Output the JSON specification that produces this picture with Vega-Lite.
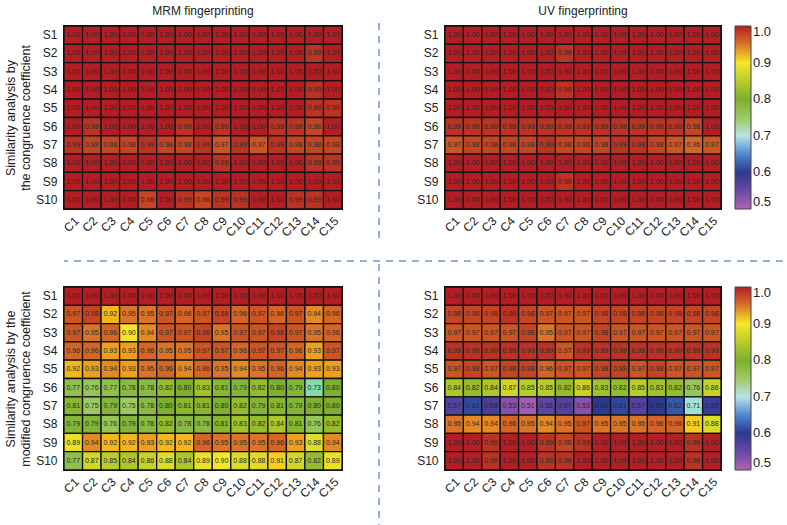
{
  "$schema": "https://vega.github.io/schema/vega-lite/v6.json",
  "padding": {"left": 3, "top": 4, "right": 0, "bottom": 0},
  "background": "white",
  "spacing": 0,
  "config": {
    "font": "Liberation Sans",
    "view": {"stroke": "#111", "strokeWidth": 2},
    "axis": {"labelFont": "Liberation Sans", "labelFontSize": 12, "labelColor": "#222", "ticks": false, "domain": false, "grid": false, "titleFont": "Liberation Sans", "titleFontWeight": "normal", "titleFontSize": 12.5, "titleColor": "#222", "labelOverlap": false},
    "title": {"font": "Liberation Sans", "fontSize": 12, "fontWeight": "normal", "color": "#222", "offset": 7},
    "legend": {"gradientLength": 183, "gradientThickness": 16, "labelFont": "Liberation Sans", "labelFontSize": 13, "labelColor": "#222", "offset": 14, "gradientStrokeColor": "#444", "gradientStrokeWidth": 1, "labelOffset": 6, "padding": 0, "labelBaseline": "middle"}
  },
  "datasets": {
    "sep": [{"a": 0}],
    "tl": [
{"s":"S1","c":"C1","v":1},{"s":"S1","c":"C2","v":1},{"s":"S1","c":"C3","v":1},{"s":"S1","c":"C4","v":1},{"s":"S1","c":"C5","v":1},{"s":"S1","c":"C6","v":1},{"s":"S1","c":"C7","v":1},{"s":"S1","c":"C8","v":1},{"s":"S1","c":"C9","v":1},{"s":"S1","c":"C10","v":1},{"s":"S1","c":"C11","v":1},{"s":"S1","c":"C12","v":1},{"s":"S1","c":"C13","v":1},{"s":"S1","c":"C14","v":1},{"s":"S1","c":"C15","v":1},
{"s":"S2","c":"C1","v":1},{"s":"S2","c":"C2","v":1},{"s":"S2","c":"C3","v":1},{"s":"S2","c":"C4","v":1},{"s":"S2","c":"C5","v":1},{"s":"S2","c":"C6","v":1},{"s":"S2","c":"C7","v":1},{"s":"S2","c":"C8","v":1},{"s":"S2","c":"C9","v":1},{"s":"S2","c":"C10","v":1},{"s":"S2","c":"C11","v":1},{"s":"S2","c":"C12","v":1},{"s":"S2","c":"C13","v":1},{"s":"S2","c":"C14","v":0.99},{"s":"S2","c":"C15","v":1},
{"s":"S3","c":"C1","v":1},{"s":"S3","c":"C2","v":1},{"s":"S3","c":"C3","v":1},{"s":"S3","c":"C4","v":1},{"s":"S3","c":"C5","v":1},{"s":"S3","c":"C6","v":1},{"s":"S3","c":"C7","v":1},{"s":"S3","c":"C8","v":1},{"s":"S3","c":"C9","v":1},{"s":"S3","c":"C10","v":1},{"s":"S3","c":"C11","v":1},{"s":"S3","c":"C12","v":1},{"s":"S3","c":"C13","v":1},{"s":"S3","c":"C14","v":1},{"s":"S3","c":"C15","v":1},
{"s":"S4","c":"C1","v":1},{"s":"S4","c":"C2","v":1},{"s":"S4","c":"C3","v":1},{"s":"S4","c":"C4","v":1},{"s":"S4","c":"C5","v":1},{"s":"S4","c":"C6","v":1},{"s":"S4","c":"C7","v":1},{"s":"S4","c":"C8","v":1},{"s":"S4","c":"C9","v":1},{"s":"S4","c":"C10","v":1},{"s":"S4","c":"C11","v":1},{"s":"S4","c":"C12","v":1},{"s":"S4","c":"C13","v":1},{"s":"S4","c":"C14","v":0.99},{"s":"S4","c":"C15","v":1},
{"s":"S5","c":"C1","v":1},{"s":"S5","c":"C2","v":1},{"s":"S5","c":"C3","v":1},{"s":"S5","c":"C4","v":1},{"s":"S5","c":"C5","v":1},{"s":"S5","c":"C6","v":1},{"s":"S5","c":"C7","v":1},{"s":"S5","c":"C8","v":1},{"s":"S5","c":"C9","v":1},{"s":"S5","c":"C10","v":1},{"s":"S5","c":"C11","v":1},{"s":"S5","c":"C12","v":1},{"s":"S5","c":"C13","v":1},{"s":"S5","c":"C14","v":0.99},{"s":"S5","c":"C15","v":0.99},
{"s":"S6","c":"C1","v":1},{"s":"S6","c":"C2","v":0.99},{"s":"S6","c":"C3","v":1},{"s":"S6","c":"C4","v":1},{"s":"S6","c":"C5","v":1},{"s":"S6","c":"C6","v":1},{"s":"S6","c":"C7","v":0.99},{"s":"S6","c":"C8","v":1},{"s":"S6","c":"C9","v":0.99},{"s":"S6","c":"C10","v":1},{"s":"S6","c":"C11","v":1},{"s":"S6","c":"C12","v":0.99},{"s":"S6","c":"C13","v":0.99},{"s":"S6","c":"C14","v":0.98},{"s":"S6","c":"C15","v":1},
{"s":"S7","c":"C1","v":0.99},{"s":"S7","c":"C2","v":0.98},{"s":"S7","c":"C3","v":0.98},{"s":"S7","c":"C4","v":0.98},{"s":"S7","c":"C5","v":0.99},{"s":"S7","c":"C6","v":0.98},{"s":"S7","c":"C7","v":0.98},{"s":"S7","c":"C8","v":0.99},{"s":"S7","c":"C9","v":0.97},{"s":"S7","c":"C10","v":0.99},{"s":"S7","c":"C11","v":0.97},{"s":"S7","c":"C12","v":0.99},{"s":"S7","c":"C13","v":0.98},{"s":"S7","c":"C14","v":0.98},{"s":"S7","c":"C15","v":0.98},
{"s":"S8","c":"C1","v":1},{"s":"S8","c":"C2","v":1},{"s":"S8","c":"C3","v":1},{"s":"S8","c":"C4","v":1},{"s":"S8","c":"C5","v":1},{"s":"S8","c":"C6","v":1},{"s":"S8","c":"C7","v":1},{"s":"S8","c":"C8","v":1},{"s":"S8","c":"C9","v":0.99},{"s":"S8","c":"C10","v":1},{"s":"S8","c":"C11","v":1},{"s":"S8","c":"C12","v":1},{"s":"S8","c":"C13","v":1},{"s":"S8","c":"C14","v":0.99},{"s":"S8","c":"C15","v":0.99},
{"s":"S9","c":"C1","v":1},{"s":"S9","c":"C2","v":1},{"s":"S9","c":"C3","v":1},{"s":"S9","c":"C4","v":1},{"s":"S9","c":"C5","v":1},{"s":"S9","c":"C6","v":1},{"s":"S9","c":"C7","v":1},{"s":"S9","c":"C8","v":1},{"s":"S9","c":"C9","v":1},{"s":"S9","c":"C10","v":1},{"s":"S9","c":"C11","v":1},{"s":"S9","c":"C12","v":1},{"s":"S9","c":"C13","v":1},{"s":"S9","c":"C14","v":1},{"s":"S9","c":"C15","v":1},
{"s":"S10","c":"C1","v":1},{"s":"S10","c":"C2","v":1},{"s":"S10","c":"C3","v":1},{"s":"S10","c":"C4","v":1},{"s":"S10","c":"C5","v":0.98},{"s":"S10","c":"C6","v":1},{"s":"S10","c":"C7","v":0.99},{"s":"S10","c":"C8","v":0.98},{"s":"S10","c":"C9","v":0.99},{"s":"S10","c":"C10","v":0.99},{"s":"S10","c":"C11","v":1},{"s":"S10","c":"C12","v":1},{"s":"S10","c":"C13","v":0.99},{"s":"S10","c":"C14","v":0.99},{"s":"S10","c":"C15","v":1}
    ],
    "tr": [
{"s":"S1","c":"C1","v":1},{"s":"S1","c":"C2","v":1},{"s":"S1","c":"C3","v":1},{"s":"S1","c":"C4","v":1},{"s":"S1","c":"C5","v":1},{"s":"S1","c":"C6","v":1},{"s":"S1","c":"C7","v":1},{"s":"S1","c":"C8","v":1},{"s":"S1","c":"C9","v":1},{"s":"S1","c":"C10","v":1},{"s":"S1","c":"C11","v":1},{"s":"S1","c":"C12","v":1},{"s":"S1","c":"C13","v":1},{"s":"S1","c":"C14","v":1},{"s":"S1","c":"C15","v":1},
{"s":"S2","c":"C1","v":1},{"s":"S2","c":"C2","v":1},{"s":"S2","c":"C3","v":1},{"s":"S2","c":"C4","v":1},{"s":"S2","c":"C5","v":1},{"s":"S2","c":"C6","v":1},{"s":"S2","c":"C7","v":0.99},{"s":"S2","c":"C8","v":1},{"s":"S2","c":"C9","v":1},{"s":"S2","c":"C10","v":1},{"s":"S2","c":"C11","v":1},{"s":"S2","c":"C12","v":1},{"s":"S2","c":"C13","v":1},{"s":"S2","c":"C14","v":1},{"s":"S2","c":"C15","v":1},
{"s":"S3","c":"C1","v":1},{"s":"S3","c":"C2","v":1},{"s":"S3","c":"C3","v":1},{"s":"S3","c":"C4","v":1},{"s":"S3","c":"C5","v":1},{"s":"S3","c":"C6","v":1},{"s":"S3","c":"C7","v":1},{"s":"S3","c":"C8","v":1},{"s":"S3","c":"C9","v":1},{"s":"S3","c":"C10","v":1},{"s":"S3","c":"C11","v":1},{"s":"S3","c":"C12","v":1},{"s":"S3","c":"C13","v":1},{"s":"S3","c":"C14","v":1},{"s":"S3","c":"C15","v":1},
{"s":"S4","c":"C1","v":1},{"s":"S4","c":"C2","v":1},{"s":"S4","c":"C3","v":1},{"s":"S4","c":"C4","v":1},{"s":"S4","c":"C5","v":1},{"s":"S4","c":"C6","v":1},{"s":"S4","c":"C7","v":0.99},{"s":"S4","c":"C8","v":1},{"s":"S4","c":"C9","v":1},{"s":"S4","c":"C10","v":1},{"s":"S4","c":"C11","v":1},{"s":"S4","c":"C12","v":1},{"s":"S4","c":"C13","v":1},{"s":"S4","c":"C14","v":1},{"s":"S4","c":"C15","v":1},
{"s":"S5","c":"C1","v":1},{"s":"S5","c":"C2","v":1},{"s":"S5","c":"C3","v":1},{"s":"S5","c":"C4","v":1},{"s":"S5","c":"C5","v":1},{"s":"S5","c":"C6","v":1},{"s":"S5","c":"C7","v":1},{"s":"S5","c":"C8","v":1},{"s":"S5","c":"C9","v":1},{"s":"S5","c":"C10","v":1},{"s":"S5","c":"C11","v":1},{"s":"S5","c":"C12","v":1},{"s":"S5","c":"C13","v":1},{"s":"S5","c":"C14","v":1},{"s":"S5","c":"C15","v":1},
{"s":"S6","c":"C1","v":0.99},{"s":"S6","c":"C2","v":0.99},{"s":"S6","c":"C3","v":0.99},{"s":"S6","c":"C4","v":0.99},{"s":"S6","c":"C5","v":0.99},{"s":"S6","c":"C6","v":0.99},{"s":"S6","c":"C7","v":0.99},{"s":"S6","c":"C8","v":0.99},{"s":"S6","c":"C9","v":0.99},{"s":"S6","c":"C10","v":0.99},{"s":"S6","c":"C11","v":0.99},{"s":"S6","c":"C12","v":0.99},{"s":"S6","c":"C13","v":0.99},{"s":"S6","c":"C14","v":0.98},{"s":"S6","c":"C15","v":1},
{"s":"S7","c":"C1","v":0.97},{"s":"S7","c":"C2","v":0.98},{"s":"S7","c":"C3","v":0.98},{"s":"S7","c":"C4","v":0.98},{"s":"S7","c":"C5","v":0.98},{"s":"S7","c":"C6","v":0.99},{"s":"S7","c":"C7","v":0.98},{"s":"S7","c":"C8","v":0.98},{"s":"S7","c":"C9","v":0.98},{"s":"S7","c":"C10","v":0.99},{"s":"S7","c":"C11","v":0.99},{"s":"S7","c":"C12","v":0.98},{"s":"S7","c":"C13","v":0.97},{"s":"S7","c":"C14","v":0.96},{"s":"S7","c":"C15","v":0.97},
{"s":"S8","c":"C1","v":1},{"s":"S8","c":"C2","v":1},{"s":"S8","c":"C3","v":1},{"s":"S8","c":"C4","v":1},{"s":"S8","c":"C5","v":1},{"s":"S8","c":"C6","v":1},{"s":"S8","c":"C7","v":1},{"s":"S8","c":"C8","v":1},{"s":"S8","c":"C9","v":1},{"s":"S8","c":"C10","v":1},{"s":"S8","c":"C11","v":1},{"s":"S8","c":"C12","v":1},{"s":"S8","c":"C13","v":1},{"s":"S8","c":"C14","v":1},{"s":"S8","c":"C15","v":1},
{"s":"S9","c":"C1","v":1},{"s":"S9","c":"C2","v":1},{"s":"S9","c":"C3","v":1},{"s":"S9","c":"C4","v":1},{"s":"S9","c":"C5","v":1},{"s":"S9","c":"C6","v":1},{"s":"S9","c":"C7","v":0.99},{"s":"S9","c":"C8","v":1},{"s":"S9","c":"C9","v":1},{"s":"S9","c":"C10","v":1},{"s":"S9","c":"C11","v":1},{"s":"S9","c":"C12","v":1},{"s":"S9","c":"C13","v":1},{"s":"S9","c":"C14","v":1},{"s":"S9","c":"C15","v":1},
{"s":"S10","c":"C1","v":1},{"s":"S10","c":"C2","v":1},{"s":"S10","c":"C3","v":1},{"s":"S10","c":"C4","v":1},{"s":"S10","c":"C5","v":1},{"s":"S10","c":"C6","v":1},{"s":"S10","c":"C7","v":1},{"s":"S10","c":"C8","v":1},{"s":"S10","c":"C9","v":1},{"s":"S10","c":"C10","v":1},{"s":"S10","c":"C11","v":1},{"s":"S10","c":"C12","v":1},{"s":"S10","c":"C13","v":1},{"s":"S10","c":"C14","v":1},{"s":"S10","c":"C15","v":1}
    ],
    "bl": [
{"s":"S1","c":"C1","v":1},{"s":"S1","c":"C2","v":1},{"s":"S1","c":"C3","v":1},{"s":"S1","c":"C4","v":1},{"s":"S1","c":"C5","v":1},{"s":"S1","c":"C6","v":1},{"s":"S1","c":"C7","v":1},{"s":"S1","c":"C8","v":1},{"s":"S1","c":"C9","v":1},{"s":"S1","c":"C10","v":1},{"s":"S1","c":"C11","v":1},{"s":"S1","c":"C12","v":1},{"s":"S1","c":"C13","v":1},{"s":"S1","c":"C14","v":1},{"s":"S1","c":"C15","v":1},
{"s":"S2","c":"C1","v":0.97},{"s":"S2","c":"C2","v":0.98},{"s":"S2","c":"C3","v":0.92},{"s":"S2","c":"C4","v":0.95},{"s":"S2","c":"C5","v":0.95},{"s":"S2","c":"C6","v":0.97},{"s":"S2","c":"C7","v":0.96},{"s":"S2","c":"C8","v":0.97},{"s":"S2","c":"C9","v":0.98},{"s":"S2","c":"C10","v":0.96},{"s":"S2","c":"C11","v":0.97},{"s":"S2","c":"C12","v":0.96},{"s":"S2","c":"C13","v":0.97},{"s":"S2","c":"C14","v":0.94},{"s":"S2","c":"C15","v":0.96},
{"s":"S3","c":"C1","v":0.97},{"s":"S3","c":"C2","v":0.95},{"s":"S3","c":"C3","v":0.96},{"s":"S3","c":"C4","v":0.90},{"s":"S3","c":"C5","v":0.94},{"s":"S3","c":"C6","v":0.97},{"s":"S3","c":"C7","v":0.97},{"s":"S3","c":"C8","v":0.98},{"s":"S3","c":"C9","v":0.95},{"s":"S3","c":"C10","v":0.97},{"s":"S3","c":"C11","v":0.97},{"s":"S3","c":"C12","v":0.98},{"s":"S3","c":"C13","v":0.97},{"s":"S3","c":"C14","v":0.95},{"s":"S3","c":"C15","v":0.96},
{"s":"S4","c":"C1","v":0.96},{"s":"S4","c":"C2","v":0.96},{"s":"S4","c":"C3","v":0.93},{"s":"S4","c":"C4","v":0.93},{"s":"S4","c":"C5","v":0.96},{"s":"S4","c":"C6","v":0.95},{"s":"S4","c":"C7","v":0.95},{"s":"S4","c":"C8","v":0.97},{"s":"S4","c":"C9","v":0.97},{"s":"S4","c":"C10","v":0.96},{"s":"S4","c":"C11","v":0.97},{"s":"S4","c":"C12","v":0.97},{"s":"S4","c":"C13","v":0.96},{"s":"S4","c":"C14","v":0.93},{"s":"S4","c":"C15","v":0.97},
{"s":"S5","c":"C1","v":0.92},{"s":"S5","c":"C2","v":0.93},{"s":"S5","c":"C3","v":0.94},{"s":"S5","c":"C4","v":0.93},{"s":"S5","c":"C5","v":0.95},{"s":"S5","c":"C6","v":0.96},{"s":"S5","c":"C7","v":0.94},{"s":"S5","c":"C8","v":0.96},{"s":"S5","c":"C9","v":0.95},{"s":"S5","c":"C10","v":0.94},{"s":"S5","c":"C11","v":0.95},{"s":"S5","c":"C12","v":0.96},{"s":"S5","c":"C13","v":0.94},{"s":"S5","c":"C14","v":0.93},{"s":"S5","c":"C15","v":0.93},
{"s":"S6","c":"C1","v":0.77},{"s":"S6","c":"C2","v":0.76},{"s":"S6","c":"C3","v":0.77},{"s":"S6","c":"C4","v":0.78},{"s":"S6","c":"C5","v":0.78},{"s":"S6","c":"C6","v":0.82},{"s":"S6","c":"C7","v":0.80},{"s":"S6","c":"C8","v":0.83},{"s":"S6","c":"C9","v":0.81},{"s":"S6","c":"C10","v":0.79},{"s":"S6","c":"C11","v":0.82},{"s":"S6","c":"C12","v":0.80},{"s":"S6","c":"C13","v":0.79},{"s":"S6","c":"C14","v":0.73},{"s":"S6","c":"C15","v":0.80},
{"s":"S7","c":"C1","v":0.81},{"s":"S7","c":"C2","v":0.75},{"s":"S7","c":"C3","v":0.79},{"s":"S7","c":"C4","v":0.75},{"s":"S7","c":"C5","v":0.78},{"s":"S7","c":"C6","v":0.80},{"s":"S7","c":"C7","v":0.81},{"s":"S7","c":"C8","v":0.81},{"s":"S7","c":"C9","v":0.80},{"s":"S7","c":"C10","v":0.82},{"s":"S7","c":"C11","v":0.79},{"s":"S7","c":"C12","v":0.81},{"s":"S7","c":"C13","v":0.79},{"s":"S7","c":"C14","v":0.80},{"s":"S7","c":"C15","v":0.80},
{"s":"S8","c":"C1","v":0.79},{"s":"S8","c":"C2","v":0.79},{"s":"S8","c":"C3","v":0.76},{"s":"S8","c":"C4","v":0.79},{"s":"S8","c":"C5","v":0.78},{"s":"S8","c":"C6","v":0.82},{"s":"S8","c":"C7","v":0.78},{"s":"S8","c":"C8","v":0.78},{"s":"S8","c":"C9","v":0.81},{"s":"S8","c":"C10","v":0.83},{"s":"S8","c":"C11","v":0.82},{"s":"S8","c":"C12","v":0.84},{"s":"S8","c":"C13","v":0.81},{"s":"S8","c":"C14","v":0.76},{"s":"S8","c":"C15","v":0.82},
{"s":"S9","c":"C1","v":0.89},{"s":"S9","c":"C2","v":0.94},{"s":"S9","c":"C3","v":0.92},{"s":"S9","c":"C4","v":0.92},{"s":"S9","c":"C5","v":0.93},{"s":"S9","c":"C6","v":0.92},{"s":"S9","c":"C7","v":0.92},{"s":"S9","c":"C8","v":0.96},{"s":"S9","c":"C9","v":0.95},{"s":"S9","c":"C10","v":0.95},{"s":"S9","c":"C11","v":0.95},{"s":"S9","c":"C12","v":0.96},{"s":"S9","c":"C13","v":0.93},{"s":"S9","c":"C14","v":0.88},{"s":"S9","c":"C15","v":0.94},
{"s":"S10","c":"C1","v":0.77},{"s":"S10","c":"C2","v":0.87},{"s":"S10","c":"C3","v":0.85},{"s":"S10","c":"C4","v":0.84},{"s":"S10","c":"C5","v":0.86},{"s":"S10","c":"C6","v":0.88},{"s":"S10","c":"C7","v":0.84},{"s":"S10","c":"C8","v":0.89},{"s":"S10","c":"C9","v":0.90},{"s":"S10","c":"C10","v":0.88},{"s":"S10","c":"C11","v":0.88},{"s":"S10","c":"C12","v":0.91},{"s":"S10","c":"C13","v":0.87},{"s":"S10","c":"C14","v":0.82},{"s":"S10","c":"C15","v":0.89}
    ],
    "br": [
{"s":"S1","c":"C1","v":1},{"s":"S1","c":"C2","v":1},{"s":"S1","c":"C3","v":1},{"s":"S1","c":"C4","v":1},{"s":"S1","c":"C5","v":1},{"s":"S1","c":"C6","v":1},{"s":"S1","c":"C7","v":1},{"s":"S1","c":"C8","v":1},{"s":"S1","c":"C9","v":1},{"s":"S1","c":"C10","v":1},{"s":"S1","c":"C11","v":1},{"s":"S1","c":"C12","v":1},{"s":"S1","c":"C13","v":1},{"s":"S1","c":"C14","v":1},{"s":"S1","c":"C15","v":1},
{"s":"S2","c":"C1","v":0.98},{"s":"S2","c":"C2","v":0.98},{"s":"S2","c":"C3","v":0.98},{"s":"S2","c":"C4","v":0.99},{"s":"S2","c":"C5","v":0.98},{"s":"S2","c":"C6","v":0.97},{"s":"S2","c":"C7","v":0.97},{"s":"S2","c":"C8","v":0.97},{"s":"S2","c":"C9","v":0.98},{"s":"S2","c":"C10","v":0.98},{"s":"S2","c":"C11","v":0.98},{"s":"S2","c":"C12","v":0.98},{"s":"S2","c":"C13","v":0.98},{"s":"S2","c":"C14","v":0.98},{"s":"S2","c":"C15","v":0.98},
{"s":"S3","c":"C1","v":0.97},{"s":"S3","c":"C2","v":0.97},{"s":"S3","c":"C3","v":0.97},{"s":"S3","c":"C4","v":0.97},{"s":"S3","c":"C5","v":0.98},{"s":"S3","c":"C6","v":0.95},{"s":"S3","c":"C7","v":0.97},{"s":"S3","c":"C8","v":0.97},{"s":"S3","c":"C9","v":0.98},{"s":"S3","c":"C10","v":0.97},{"s":"S3","c":"C11","v":0.97},{"s":"S3","c":"C12","v":0.97},{"s":"S3","c":"C13","v":0.97},{"s":"S3","c":"C14","v":0.97},{"s":"S3","c":"C15","v":0.97},
{"s":"S4","c":"C1","v":0.99},{"s":"S4","c":"C2","v":0.99},{"s":"S4","c":"C3","v":0.99},{"s":"S4","c":"C4","v":0.99},{"s":"S4","c":"C5","v":0.99},{"s":"S4","c":"C6","v":0.99},{"s":"S4","c":"C7","v":0.97},{"s":"S4","c":"C8","v":0.99},{"s":"S4","c":"C9","v":0.99},{"s":"S4","c":"C10","v":0.99},{"s":"S4","c":"C11","v":0.99},{"s":"S4","c":"C12","v":0.99},{"s":"S4","c":"C13","v":0.99},{"s":"S4","c":"C14","v":0.99},{"s":"S4","c":"C15","v":0.99},
{"s":"S5","c":"C1","v":0.97},{"s":"S5","c":"C2","v":0.98},{"s":"S5","c":"C3","v":0.97},{"s":"S5","c":"C4","v":0.98},{"s":"S5","c":"C5","v":0.98},{"s":"S5","c":"C6","v":0.96},{"s":"S5","c":"C7","v":0.97},{"s":"S5","c":"C8","v":0.97},{"s":"S5","c":"C9","v":0.98},{"s":"S5","c":"C10","v":0.98},{"s":"S5","c":"C11","v":0.97},{"s":"S5","c":"C12","v":0.98},{"s":"S5","c":"C13","v":0.97},{"s":"S5","c":"C14","v":0.97},{"s":"S5","c":"C15","v":0.97},
{"s":"S6","c":"C1","v":0.84},{"s":"S6","c":"C2","v":0.82},{"s":"S6","c":"C3","v":0.84},{"s":"S6","c":"C4","v":0.87},{"s":"S6","c":"C5","v":0.85},{"s":"S6","c":"C6","v":0.85},{"s":"S6","c":"C7","v":0.82},{"s":"S6","c":"C8","v":0.86},{"s":"S6","c":"C9","v":0.83},{"s":"S6","c":"C10","v":0.82},{"s":"S6","c":"C11","v":0.85},{"s":"S6","c":"C12","v":0.83},{"s":"S6","c":"C13","v":0.82},{"s":"S6","c":"C14","v":0.76},{"s":"S6","c":"C15","v":0.86},
{"s":"S7","c":"C1","v":0.57},{"s":"S7","c":"C2","v":0.61},{"s":"S7","c":"C3","v":0.58},{"s":"S7","c":"C4","v":0.53},{"s":"S7","c":"C5","v":0.51},{"s":"S7","c":"C6","v":0.56},{"s":"S7","c":"C7","v":0.57},{"s":"S7","c":"C8","v":0.53},{"s":"S7","c":"C9","v":0.60},{"s":"S7","c":"C10","v":0.61},{"s":"S7","c":"C11","v":0.57},{"s":"S7","c":"C12","v":0.60},{"s":"S7","c":"C13","v":0.62},{"s":"S7","c":"C14","v":0.71},{"s":"S7","c":"C15","v":0.59},
{"s":"S8","c":"C1","v":0.95},{"s":"S8","c":"C2","v":0.94},{"s":"S8","c":"C3","v":0.94},{"s":"S8","c":"C4","v":0.96},{"s":"S8","c":"C5","v":0.95},{"s":"S8","c":"C6","v":0.94},{"s":"S8","c":"C7","v":0.95},{"s":"S8","c":"C8","v":0.97},{"s":"S8","c":"C9","v":0.95},{"s":"S8","c":"C10","v":0.95},{"s":"S8","c":"C11","v":0.95},{"s":"S8","c":"C12","v":0.96},{"s":"S8","c":"C13","v":0.96},{"s":"S8","c":"C14","v":0.91},{"s":"S8","c":"C15","v":0.88},
{"s":"S9","c":"C1","v":1},{"s":"S9","c":"C2","v":1},{"s":"S9","c":"C3","v":0.99},{"s":"S9","c":"C4","v":1},{"s":"S9","c":"C5","v":1},{"s":"S9","c":"C6","v":0.99},{"s":"S9","c":"C7","v":0.98},{"s":"S9","c":"C8","v":0.99},{"s":"S9","c":"C9","v":1},{"s":"S9","c":"C10","v":1},{"s":"S9","c":"C11","v":1},{"s":"S9","c":"C12","v":1},{"s":"S9","c":"C13","v":1},{"s":"S9","c":"C14","v":0.99},{"s":"S9","c":"C15","v":1},
{"s":"S10","c":"C1","v":1},{"s":"S10","c":"C2","v":1},{"s":"S10","c":"C3","v":0.99},{"s":"S10","c":"C4","v":1},{"s":"S10","c":"C5","v":1},{"s":"S10","c":"C6","v":0.99},{"s":"S10","c":"C7","v":0.99},{"s":"S10","c":"C8","v":1},{"s":"S10","c":"C9","v":1},{"s":"S10","c":"C10","v":1},{"s":"S10","c":"C11","v":1},{"s":"S10","c":"C12","v":1},{"s":"S10","c":"C13","v":1},{"s":"S10","c":"C14","v":0.99},{"s":"S10","c":"C15","v":1}
    ]
  },
  "vconcat": [
    {
      "spacing": 29,
      "resolve": {"scale": {"color": "independent"}, "legend": {"color": "independent"}},
      "hconcat": [
        {
          "width": 278, "height": 183,
          "title": "MRM fingerprinting",
          "data": {"name": "tl"},
          "encoding": {
            "x": {"field": "c", "type": "nominal", "sort": ["C1","C2","C3","C4","C5","C6","C7","C8","C9","C10","C11","C12","C13","C14","C15"], "scale": {"paddingInner": 0, "paddingOuter": 0}, "axis": {"title": null, "labelAngle": -45, "labelPadding": 6}},
            "y": {"field": "s", "type": "nominal", "sort": ["S1","S2","S3","S4","S5","S6","S7","S8","S9","S10"], "scale": {"paddingInner": 0, "paddingOuter": 0}, "axis": {"title": ["Similarity analysis by", "the congruence coefficient"], "titleLineHeight": 15, "titlePadding": 3, "labelPadding": 7}}
          },
          "layer": [
            {"mark": {"type": "rect", "stroke": "#111", "strokeWidth": 1.3}, "encoding": {"color": {"field": "v", "type": "quantitative", "legend": null, "scale": {"domain": [0.5,0.55,0.6,0.65,0.7,0.75,0.8,0.85,0.9,0.95,1.0], "range": ["#b062b4","#6a48a6","#2b3990","#4f88d2","#b9e2e6","#9cca62","#7cb02e","#b9cd2a","#f6e629","#da7428","#b21e23"]}}}},
            {"mark": {"type": "text", "fontSize": 7, "color": "#2a2a2a"}, "encoding": {"text": {"field": "v", "type": "quantitative", "format": ".2f"}}}
          ]
        },
        {
          "width": 13, "height": 183, "view": {"stroke": null},
          "data": {"name": "sep"},
          "mark": {"type": "rule", "color": "#8db0df", "strokeWidth": 2, "strokeDash": [7, 6]},
          "encoding": {
            "x": {"datum": 6, "type": "quantitative", "scale": {"domain": [0, 13], "nice": false, "zero": false}, "axis": null},
            "y": {"datum": 186, "type": "quantitative", "scale": {"domain": [0, 183], "nice": false, "zero": false}, "axis": null},
            "y2": {"datum": -30}
          }
        },
        {
          "width": 276, "height": 183,
          "title": "UV fingerprinting",
          "data": {"name": "tr"},
          "encoding": {
            "x": {"field": "c", "type": "nominal", "sort": ["C1","C2","C3","C4","C5","C6","C7","C8","C9","C10","C11","C12","C13","C14","C15"], "scale": {"paddingInner": 0, "paddingOuter": 0}, "axis": {"title": null, "labelAngle": -45, "labelPadding": 6}},
            "y": {"field": "s", "type": "nominal", "sort": ["S1","S2","S3","S4","S5","S6","S7","S8","S9","S10"], "scale": {"paddingInner": 0, "paddingOuter": 0}, "axis": {"title": null, "labelPadding": 7}}
          },
          "layer": [
            {"mark": {"type": "rect", "stroke": "#111", "strokeWidth": 1.3}, "encoding": {"color": {"field": "v", "type": "quantitative", "legend": {"title": null, "type": "gradient", "direction": "vertical", "values": [0.5,0.6,0.7,0.8,0.9,1.0], "format": ".1f"}, "scale": {"domain": [0.5,0.55,0.6,0.65,0.7,0.75,0.8,0.85,0.9,0.95,1.0], "range": ["#b062b4","#6a48a6","#2b3990","#4f88d2","#b9e2e6","#9cca62","#7cb02e","#b9cd2a","#f6e629","#da7428","#b21e23"]}}}},
            {"mark": {"type": "text", "fontSize": 7, "color": "#2a2a2a"}, "encoding": {"text": {"field": "v", "type": "quantitative", "format": ".2f"}}}
          ]
        }
      ]
    },
    {
      "width": 784, "height": 23, "view": {"stroke": null},
      "data": {"name": "sep"},
      "mark": {"type": "rule", "color": "#8db0df", "strokeWidth": 2, "strokeDash": [7, 6]},
      "encoding": {"y": {"datum": 2, "type": "quantitative", "scale": {"domain": [0, 23], "nice": false, "zero": false}, "axis": null}}
    },
    {
      "spacing": 29,
      "resolve": {"scale": {"color": "independent"}, "legend": {"color": "independent"}},
      "hconcat": [
        {
          "width": 278, "height": 183,
          "data": {"name": "bl"},
          "encoding": {
            "x": {"field": "c", "type": "nominal", "sort": ["C1","C2","C3","C4","C5","C6","C7","C8","C9","C10","C11","C12","C13","C14","C15"], "scale": {"paddingInner": 0, "paddingOuter": 0}, "axis": {"title": null, "labelAngle": -45, "labelPadding": 6}},
            "y": {"field": "s", "type": "nominal", "sort": ["S1","S2","S3","S4","S5","S6","S7","S8","S9","S10"], "scale": {"paddingInner": 0, "paddingOuter": 0}, "axis": {"title": ["Similarity analysis by the", "modified congruence coefficient"], "titleLineHeight": 15, "titlePadding": 3, "labelPadding": 7}}
          },
          "layer": [
            {"mark": {"type": "rect", "stroke": "#111", "strokeWidth": 1.3}, "encoding": {"color": {"field": "v", "type": "quantitative", "legend": null, "scale": {"domain": [0.5,0.55,0.6,0.65,0.7,0.75,0.8,0.85,0.9,0.95,1.0], "range": ["#b062b4","#6a48a6","#2b3990","#4f88d2","#b9e2e6","#9cca62","#7cb02e","#b9cd2a","#f6e629","#da7428","#b21e23"]}}}},
            {"mark": {"type": "text", "fontSize": 7, "color": "#2a2a2a"}, "encoding": {"text": {"field": "v", "type": "quantitative", "format": ".2f"}}}
          ]
        },
        {
          "width": 13, "height": 183, "view": {"stroke": null},
          "data": {"name": "sep"},
          "mark": {"type": "rule", "color": "#8db0df", "strokeWidth": 2, "strokeDash": [7, 6]},
          "encoding": {
            "x": {"datum": 6, "type": "quantitative", "scale": {"domain": [0, 13], "nice": false, "zero": false}, "axis": null},
            "y": {"datum": 206, "type": "quantitative", "scale": {"domain": [0, 183], "nice": false, "zero": false}, "axis": null},
            "y2": {"datum": -60}
          }
        },
        {
          "width": 276, "height": 183,
          "data": {"name": "br"},
          "encoding": {
            "x": {"field": "c", "type": "nominal", "sort": ["C1","C2","C3","C4","C5","C6","C7","C8","C9","C10","C11","C12","C13","C14","C15"], "scale": {"paddingInner": 0, "paddingOuter": 0}, "axis": {"title": null, "labelAngle": -45, "labelPadding": 6}},
            "y": {"field": "s", "type": "nominal", "sort": ["S1","S2","S3","S4","S5","S6","S7","S8","S9","S10"], "scale": {"paddingInner": 0, "paddingOuter": 0}, "axis": {"title": null, "labelPadding": 7}}
          },
          "layer": [
            {"mark": {"type": "rect", "stroke": "#111", "strokeWidth": 1.3}, "encoding": {"color": {"field": "v", "type": "quantitative", "legend": {"title": null, "type": "gradient", "direction": "vertical", "values": [0.5,0.6,0.7,0.8,0.9,1.0], "format": ".1f"}, "scale": {"domain": [0.5,0.55,0.6,0.65,0.7,0.75,0.8,0.85,0.9,0.95,1.0], "range": ["#b062b4","#6a48a6","#2b3990","#4f88d2","#b9e2e6","#9cca62","#7cb02e","#b9cd2a","#f6e629","#da7428","#b21e23"]}}}},
            {"mark": {"type": "text", "fontSize": 7, "color": "#2a2a2a"}, "encoding": {"text": {"field": "v", "type": "quantitative", "format": ".2f"}}}
          ]
        }
      ]
    }
  ]
}
